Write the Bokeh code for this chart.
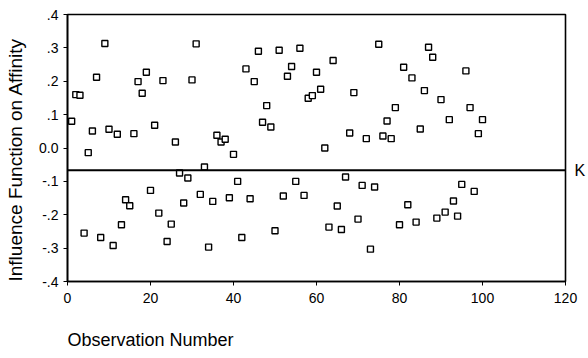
from bokeh.plotting import figure
from bokeh.models import Span, FixedTicker, ColumnDataSource, Title, LinearAxis
from bokeh.embed import file_html
from bokeh.resources import INLINE

# Observation numbers and influence values
obs = list(range(1, 101))
influence = [
    0.080, 0.160, 0.158, -0.255, -0.014, 0.051, 0.212, -0.268, 0.313, 0.056,
    -0.292, 0.041, -0.230, -0.155, -0.173, 0.043, 0.199, 0.164, 0.227, -0.127,
    0.068, -0.195, 0.202, -0.280, -0.228, 0.018, -0.075, -0.165, -0.090, 0.204,
    0.312, -0.139, -0.057, -0.297, -0.160, 0.038, 0.018, 0.026, -0.149, -0.019,
    -0.100, -0.268, 0.237, -0.152, 0.199, 0.290, 0.077, 0.127, 0.063, -0.248,
    0.293, -0.144, 0.215, 0.244, -0.100, 0.299, -0.142, 0.149, 0.157, 0.227,
    0.176, 0.000, -0.237, 0.262, -0.174, -0.244, -0.087, 0.045, 0.166, -0.213,
    -0.112, 0.028, -0.303, -0.117, 0.311, 0.036, 0.081, 0.028, 0.121, -0.230,
    0.242, -0.170, 0.210, -0.222, 0.057, 0.172, 0.302, 0.272, -0.210, 0.145,
    -0.192, 0.085, -0.159, -0.204, -0.109, 0.231, 0.121, -0.130, 0.043, 0.085,
]
k_level = -0.067

x_ticks = [0, 20, 40, 60, 80, 100, 120]
y_ticks = [-0.4, -0.3, -0.2, -0.1, 0.0, 0.1, 0.2, 0.3, 0.4]
y_tick_labels = ["-.4", "-.3", "-.2", "-.1", "0.0", ".1", ".2", ".3", ".4"]

FONT = "Liberation Sans"

p = figure(width=588, height=358, output_backend="svg", toolbar_location=None,
           x_range=(0, 120), y_range=(-0.4, 0.4),
           min_border_left=67, min_border_right=14, min_border_top=14, min_border_bottom=77)
p.background_fill_color = "white"
p.border_fill_color = "white"
p.outline_line_color = "black"
p.outline_line_width = 1.6
p.grid.visible = False

for ax in (p.xaxis[0], p.yaxis[0]):
    ax.axis_line_color = "black"
    ax.axis_line_width = 1.6
    ax.major_tick_line_color = "black"
    ax.major_tick_in = 0
    ax.major_tick_out = 4
    ax.minor_tick_line_color = None
    ax.major_label_text_font = FONT
    ax.major_label_text_font_size = "14px"
    ax.major_label_text_color = "black"
    ax.major_label_standoff = 5
p.xaxis.major_label_standoff = 7

p.xaxis.ticker = FixedTicker(ticks=x_ticks)
p.yaxis.ticker = FixedTicker(ticks=y_ticks)
p.yaxis.major_label_overrides = {t: s for t, s in zip(y_ticks, y_tick_labels)}

# right-hand "K" marker for the reference line
k_axis = LinearAxis(ticker=FixedTicker(ticks=[k_level]),
                    major_label_overrides={k_level: "K"},
                    axis_line_color=None, major_tick_line_color=None,
                    minor_tick_line_color=None, major_label_standoff=3,
                    major_label_text_font=FONT, major_label_text_font_size="16px",
                    major_label_text_color="black")
p.add_layout(k_axis, "right")


def spacer(px, tick):
    # an axis with one white, label-less tick that only reserves space in a side panel
    return LinearAxis(ticker=FixedTicker(ticks=[tick]), axis_line_color=None,
                      major_tick_line_color="white", minor_tick_line_color=None,
                      major_tick_in=0, major_tick_out=px, major_label_standoff=0,
                      major_label_text_color=None)


src = ColumnDataSource(dict(x=obs, y=influence))
p.scatter("x", "y", source=src, marker="square", size=6, line_color="black",
          line_width=1.4, fill_color="white")

p.add_layout(Span(location=k_level, dimension="width", line_color="black", line_width=2))

p.add_layout(spacer(9, 0.0), "left")
p.add_layout(Title(text="Influence Function on Affinity", align="left", offset=0,
                   standoff=4, text_font=FONT, text_font_size="19px",
                   text_font_style="normal", text_color="black"), "left")

p.add_layout(spacer(18, 60), "below")
p.add_layout(Title(text="Observation Number", align="left", standoff=8,
                   text_font=FONT, text_font_size="18px",
                   text_font_style="normal", text_color="black"), "below")

open("out.html", "w").write(file_html(p, INLINE))
